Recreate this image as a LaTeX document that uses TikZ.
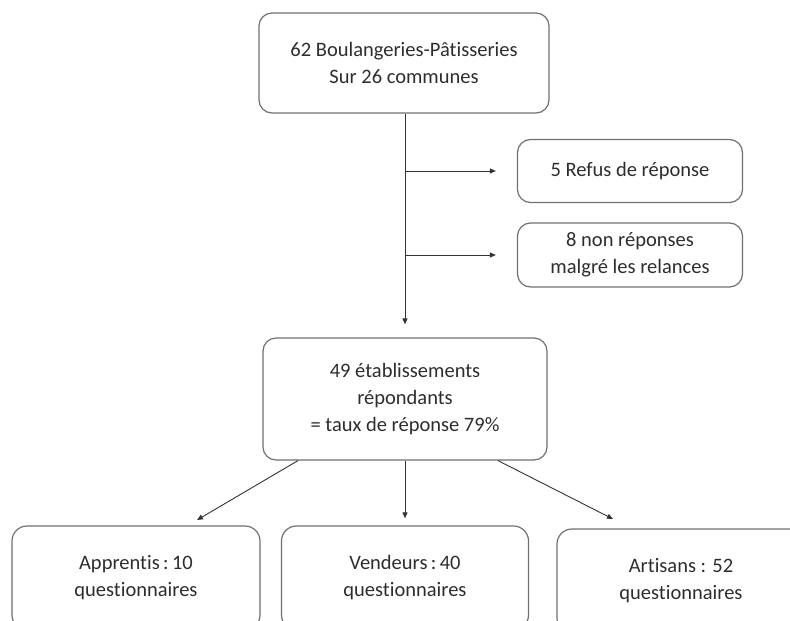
\documentclass[tikz,border=0pt]{standalone}
\usepackage{fontspec}
\setmainfont{Carlito}[Ligatures=NoCommon]
\usepackage{xcolor}
\definecolor{boxgray}{RGB}{112,112,112}
\definecolor{textgray}{RGB}{45,45,45}
\usetikzlibrary{arrows.meta}

\begin{document}
\begin{tikzpicture}[x=1pt,y=-1pt,
        block/.style={draw=boxgray, line width=1.2pt, rounded corners=13pt, align=center,
            text=textgray, font=\fontsize{20.5}{27}\selectfont, inner sep=0pt},
        link/.style={-{Triangle[length=6pt,width=5pt]}, line width=0.9pt, draw=black!80}]
                % Page frame, the bottom boxes run past it
                \clip (0,0) rectangle (790,621);
                % Sample and the ones that dropped out
                \node[block, minimum width=290pt, minimum height=100pt] (total) at (404,63) {62 Boulangeries-Pâtisseries\\Sur 26 communes};
                \node[block, minimum width=225pt, minimum height=63pt] (refus) at (630,171) {5 Refus de réponse};
                \node[block, minimum width=225pt, minimum height=64pt] (nonrep) at (630,255) {8 non réponses\\malgré les relances};
                \node[block, minimum width=284pt, minimum height=122pt] (resp) at (405,399) {49 établissements\\répondants\\= taux de réponse 79\%};

                % Questionnaires by group
                \node[block, rounded corners=15pt, minimum width=248pt, minimum height=104pt] (appr) at (136,578) {Apprentis\,:\,10\\questionnaires};
                \node[block, rounded corners=15pt, minimum width=247pt, minimum height=104pt] (vend) at (405,578) {Vendeurs\,:\,40\\questionnaires};
                \node[block, rounded corners=15pt, minimum width=248pt, minimum height=104pt] (arti) at (681,581) {Artisans : 52\\questionnaires};

                % Main line and side branches
                \draw[link, shorten >=13pt] (total.south -| resp.north) -- (resp.north);
                \draw[link, shorten >=21pt] (resp.north |- refus.west) -- (refus.west);
                \draw[link, shorten >=21pt] (resp.north |- nonrep.west) -- (nonrep.west);

                % Split into the three groups
                \coordinate (tipA) at (197,520);
                \coordinate (tipC) at (613,519);
                \draw[link] ([xshift=-107pt]resp.south) -- (tipA);
                \draw[link, shorten >=7pt] (resp.south) -- (resp.south |- vend.north);
                \draw[link] ([xshift=93pt]resp.south) -- (tipC);
\end{tikzpicture}
\end{document}
